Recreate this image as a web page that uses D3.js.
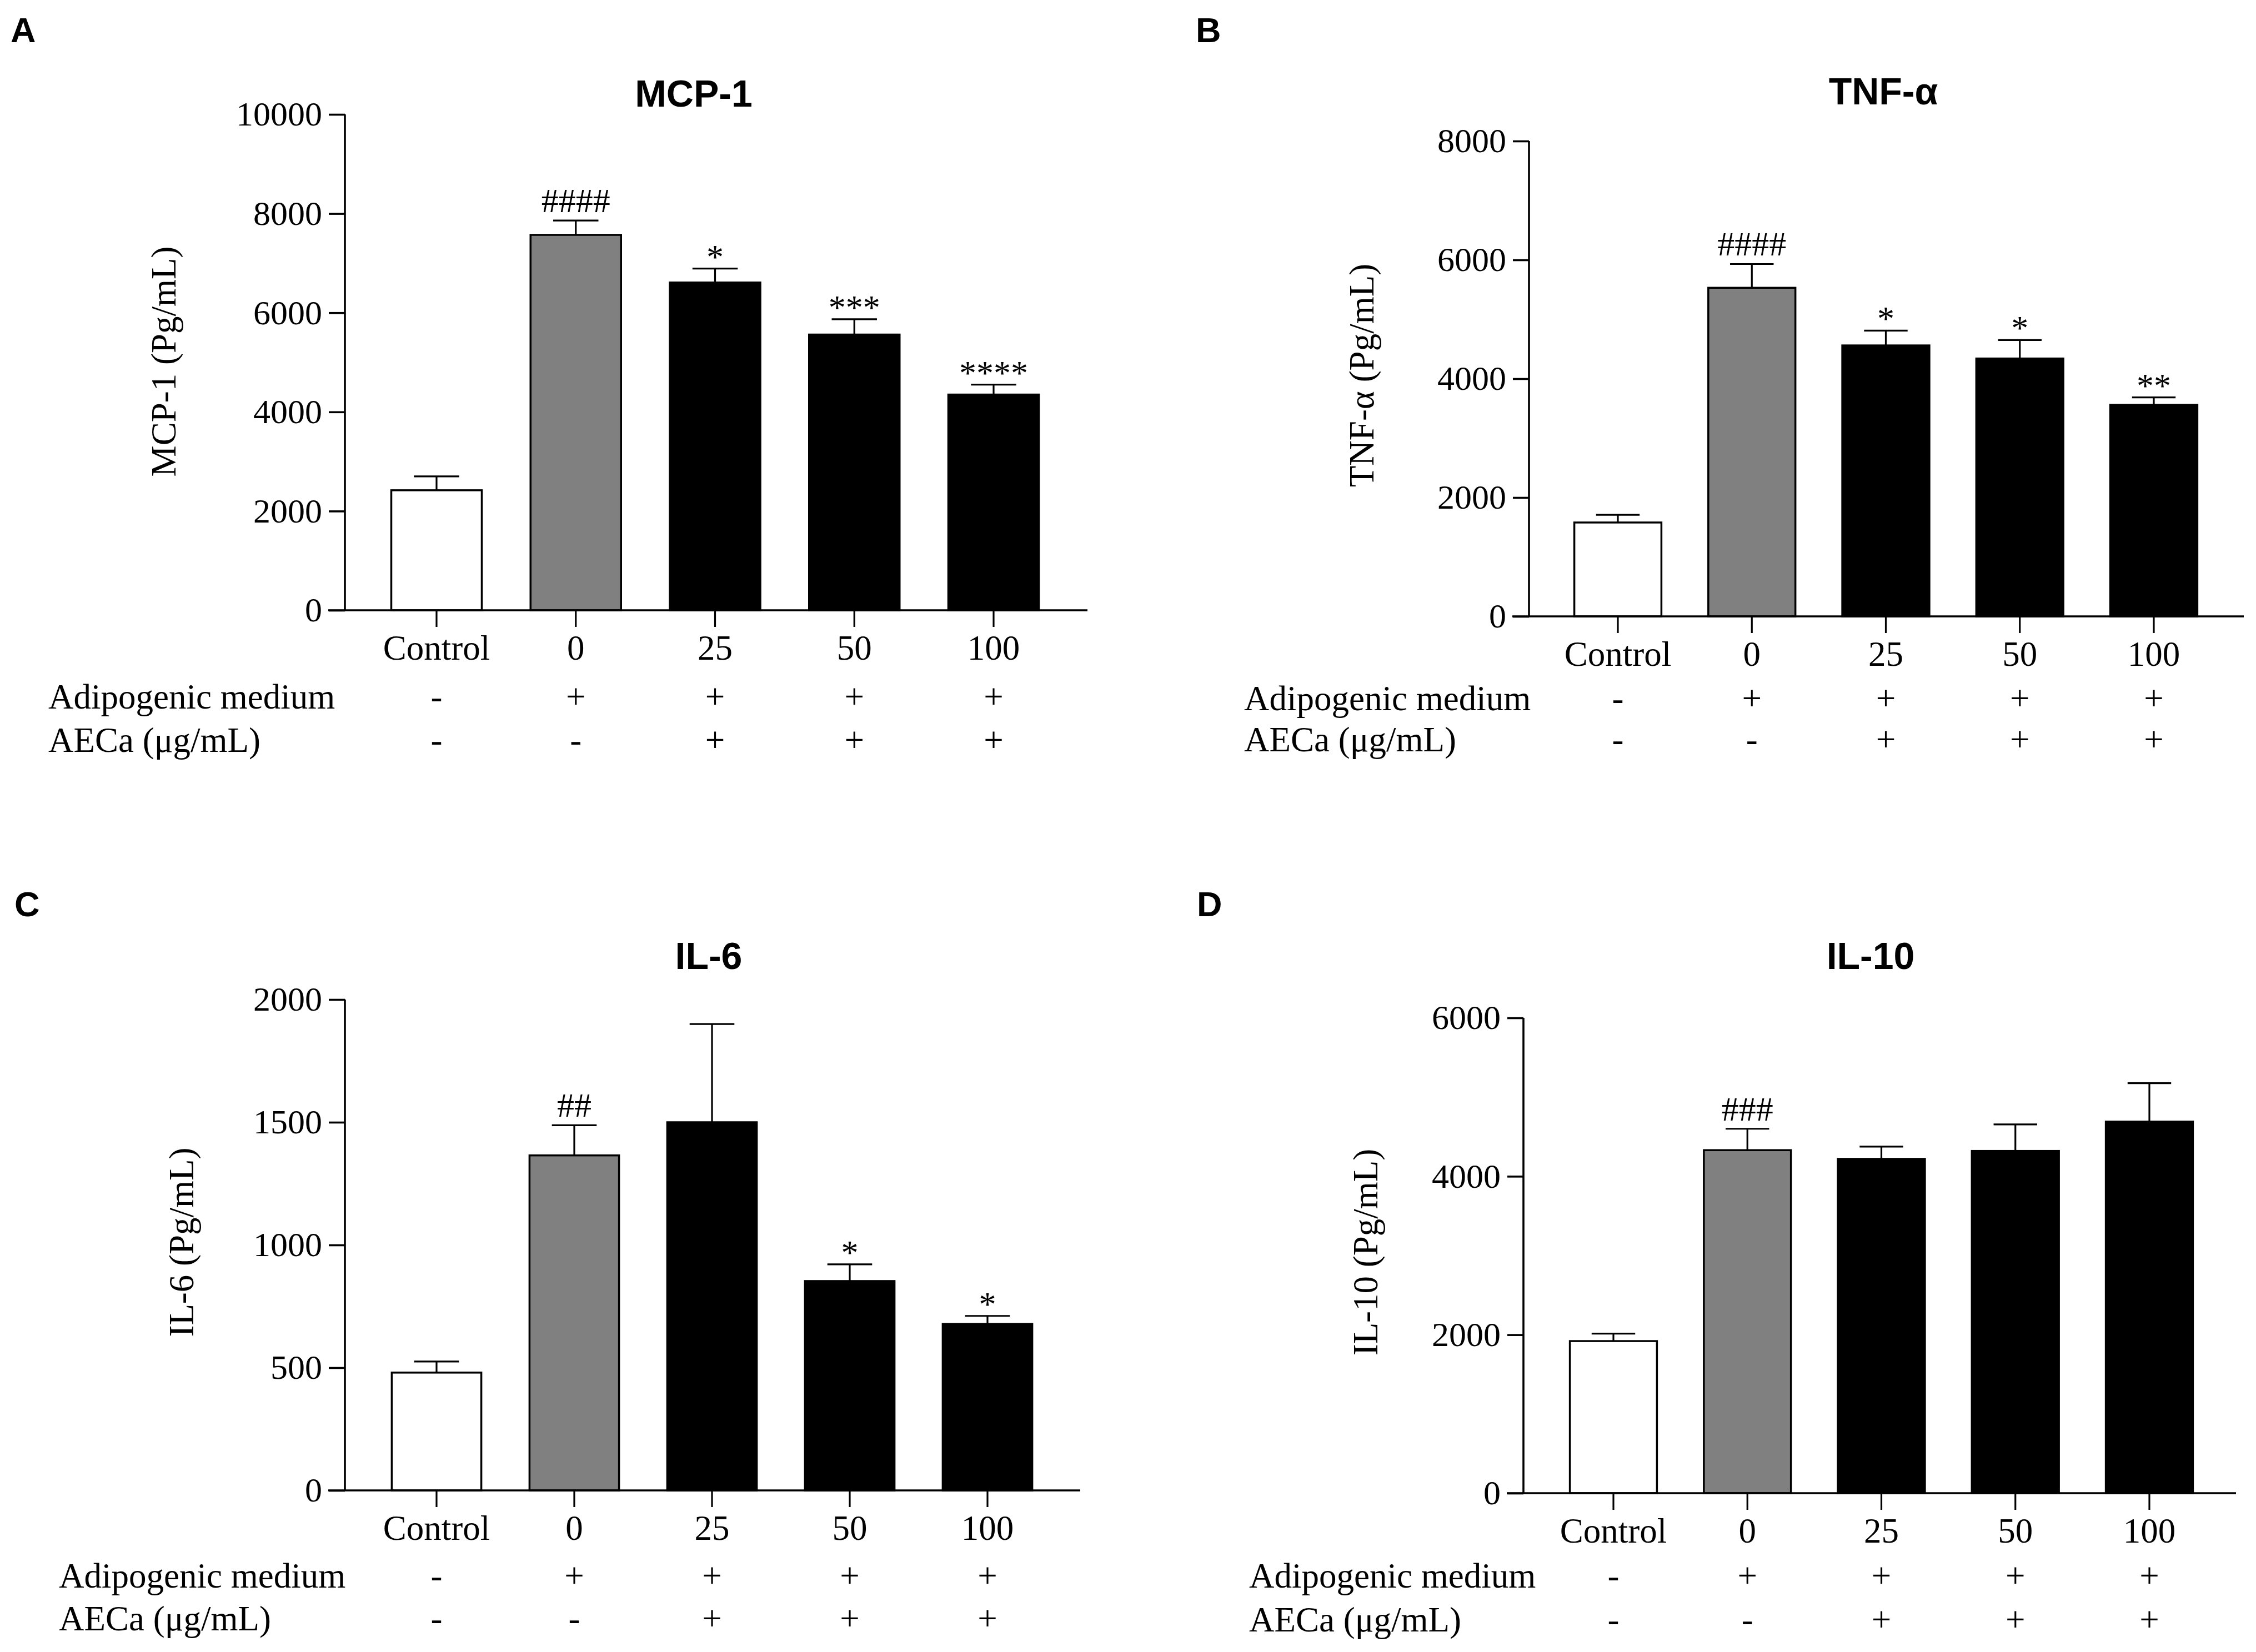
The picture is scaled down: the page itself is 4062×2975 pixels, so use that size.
<!DOCTYPE html>
<html>
<head>
<meta charset="utf-8">
<script src="https://cdn.jsdelivr.net/npm/d3@7"></script>
<style>
  body { margin: 0; background: #fff; }
  svg { display: block; }
</style>
</head>
<body>
<svg id="fig"></svg>
<script>
// groups shown on every panel
var groups = ["Control", "0", "25", "50", "100"];
var mediumRow = ["-", "+", "+", "+", "+"];
var aecaRow = ["-", "-", "+", "+", "+"];
var barFill = ["#ffffff", "#808080", "#000000", "#000000", "#000000"];

// MCP-1 (pg/mL), mean and SEM
var mcpMean = [2420, 7570, 6610, 5560, 4350];
var mcpSem = [280, 290, 280, 310, 200];
var mcpSig = ["", "####", "*", "***", "****"];
var mcpTicks = [0, 2000, 4000, 6000, 8000, 10000];

// TNF-a
var tnfMean = [1580, 5530, 4560, 4340, 3560];
var tnfSem = [130, 400, 250, 310, 125];
var tnfSig = ["", "####", "*", "*", "**"];
var tnfTicks = [0, 2000, 4000, 6000, 8000];

// IL-6
var il6Mean = [480, 1365, 1500, 853, 678];
var il6Sem = [45, 123, 400, 68, 33];
var il6Sig = ["", "##", "", "*", "*"];
var il6Ticks = [0, 500, 1000, 1500, 2000];

// IL-10
var il10Mean = [1920, 4330, 4220, 4320, 4690];
var il10Sem = [95, 270, 155, 335, 485];
var il10Sig = ["", "###", "", "", ""];
var il10Ticks = [0, 2000, 4000, 6000];

var W = 4062, H = 2975;
var serif = "'Liberation Serif', 'Times New Roman', serif";
var sans = "'Liberation Sans', Arial, sans-serif";

var svg = d3.select("#fig").attr("width", W).attr("height", H);
svg.append("rect").attr("width", W).attr("height", H).attr("fill", "#fff");

var panels = [
  { letter: "A", lx: 19, ly: 76, title: "MCP-1", tx: 1249, ty: 192,
    ylab: "MCP-1 (Pg/mL)", ylx: 316, yly: 651,
    mean: mcpMean, sem: mcpSem, sig: mcpSig, ticks: mcpTicks,
    axX: 621, yTop: 206, yBot: 1099, xEnd: 1958, c0: 786, c1: 1789,
    rowX: 87, row1: 1276, row2: 1354 },
  { letter: "B", lx: 2153, ly: 76, title: "TNF-α", tx: 3391, ty: 188,
    ylab: "TNF-α (Pg/mL)", ylx: 2473, yly: 676,
    mean: tnfMean, sem: tnfSem, sig: tnfSig, ticks: tnfTicks,
    axX: 2753, yTop: 254, yBot: 1110, xEnd: 4040, c0: 2913, c1: 3878,
    rowX: 2240, row1: 1279, row2: 1353 },
  { letter: "C", lx: 26, ly: 1650, title: "IL-6", tx: 1276, ty: 1745,
    ylab: "IL-6 (Pg/mL)", ylx: 348, yly: 2237,
    mean: il6Mean, sem: il6Sem, sig: il6Sig, ticks: il6Ticks,
    axX: 621, yTop: 1800, yBot: 2684, xEnd: 1945, c0: 786, c1: 1778,
    rowX: 106, row1: 2859, row2: 2936 },
  { letter: "D", lx: 2155, ly: 1650, title: "IL-10", tx: 3368, ty: 1745,
    ylab: "IL-10 (Pg/mL)", ylx: 2480, yly: 2255,
    mean: il10Mean, sem: il10Sem, sig: il10Sig, ticks: il10Ticks,
    axX: 2743, yTop: 1833, yBot: 2689, xEnd: 4026, c0: 2905, c1: 3870,
    rowX: 2249, row1: 2859, row2: 2938 }
];

panels.forEach(function(p) {
  var g = svg.append("g");
  var step = (p.c1 - p.c0) / (groups.length - 1);

  var x = d3.scaleBand().domain(groups)
    .range([p.c0 - step / 2, p.c1 + step / 2])
    .paddingInner(0.35).paddingOuter(0.175);
  var y = d3.scaleLinear()
    .domain([0, d3.max(p.ticks)])
    .range([p.yBot, p.yTop]);

  // panel letter and title
  g.append("text").attr("x", p.lx).attr("y", p.ly)
    .attr("font-family", sans).attr("font-weight", "bold").attr("font-size", 63)
    .text(p.letter);
  g.append("text").attr("x", p.tx).attr("y", p.ty)
    .attr("text-anchor", "middle")
    .attr("font-family", sans).attr("font-weight", "bold").attr("font-size", 68)
    .text(p.title);

  // bars
  g.selectAll(".bar").data(p.mean).enter().append("rect")
    .attr("class", "bar")
    .attr("x", function(d, i) { return x(groups[i]); })
    .attr("y", function(d) { return y(d); })
    .attr("width", x.bandwidth())
    .attr("height", function(d) { return p.yBot - y(d); })
    .attr("fill", function(d, i) { return barFill[i]; })
    .attr("stroke", "#000").attr("stroke-width", 3.5);

  // error bars (upper only)
  var eb = g.selectAll(".err").data(p.mean).enter().append("g").attr("class", "err")
    .attr("stroke", "#000").attr("stroke-width", 3.2);
  eb.append("line")
    .attr("x1", function(d, i) { return x(groups[i]) + x.bandwidth() / 2; })
    .attr("x2", function(d, i) { return x(groups[i]) + x.bandwidth() / 2; })
    .attr("y1", function(d) { return y(d); })
    .attr("y2", function(d, i) { return y(d + p.sem[i]); });
  eb.append("line")
    .attr("x1", function(d, i) { return x(groups[i]) + x.bandwidth() / 4; })
    .attr("x2", function(d, i) { return x(groups[i]) + x.bandwidth() * 3 / 4; })
    .attr("y1", function(d, i) { return y(d + p.sem[i]); })
    .attr("y2", function(d, i) { return y(d + p.sem[i]); });

  // significance marks
  g.selectAll(".sig").data(p.sig).enter().append("text")
    .attr("class", "sig")
    .attr("x", function(d, i) { return x(groups[i]) + x.bandwidth() / 2; })
    .attr("y", function(d, i) {
      var top = y(p.mean[i] + p.sem[i]);
      return d.charAt(0) === "#" ? top - 15 : top - 1;
    })
    .attr("text-anchor", "middle")
    .attr("font-family", serif).attr("font-size", 62)
    .text(function(d) { return d; });

  // y axis
  var yAxis = g.append("g")
    .attr("transform", "translate(" + p.axX + ",0)")
    .call(d3.axisLeft(y).tickValues(p.ticks).tickSize(29).tickPadding(12).tickFormat(d3.format("d")));
  yAxis.select(".domain").attr("d", "M0," + p.yTop + "V" + p.yBot)
    .attr("stroke-width", 3.6);
  yAxis.selectAll(".tick line").attr("stroke-width", 3.6);
  yAxis.selectAll("text").attr("font-family", serif).attr("font-size", 62).attr("fill", "#000");

  // x axis
  var xAxis = g.append("g")
    .attr("transform", "translate(0," + p.yBot + ")")
    .call(d3.axisBottom(x).tickSize(30).tickPadding(24));
  xAxis.select(".domain").attr("d", "M" + (p.axX - 30) + ",0H" + p.xEnd)
    .attr("stroke-width", 3.6);
  xAxis.selectAll(".tick line").attr("stroke-width", 3.2);
  xAxis.selectAll("text").attr("font-family", serif).attr("font-size", 63).attr("fill", "#000")
    .attr("dy", null).attr("y", 89);

  // y label
  g.append("text")
    .attr("transform", "translate(" + p.ylx + "," + p.yly + ") rotate(-90)")
    .attr("text-anchor", "middle")
    .attr("font-family", serif).attr("font-size", 63)
    .text(p.ylab);

  // treatment rows
  [[ "Adipogenic medium", mediumRow, p.row1 ], [ "AECa (μg/mL)", aecaRow, p.row2 ]].forEach(function(r) {
    g.append("text").attr("x", p.rowX).attr("y", r[2])
      .attr("font-family", serif).attr("font-size", 63)
      .text(r[0]);
    g.selectAll(null).data(r[1]).enter().append("text")
      .attr("x", function(d, i) { return x(groups[i]) + x.bandwidth() / 2; })
      .attr("y", r[2])
      .attr("text-anchor", "middle")
      .attr("font-family", serif).attr("font-size", 63)
      .text(function(d) { return d; });
  });
});
</script>
</body>
</html>
